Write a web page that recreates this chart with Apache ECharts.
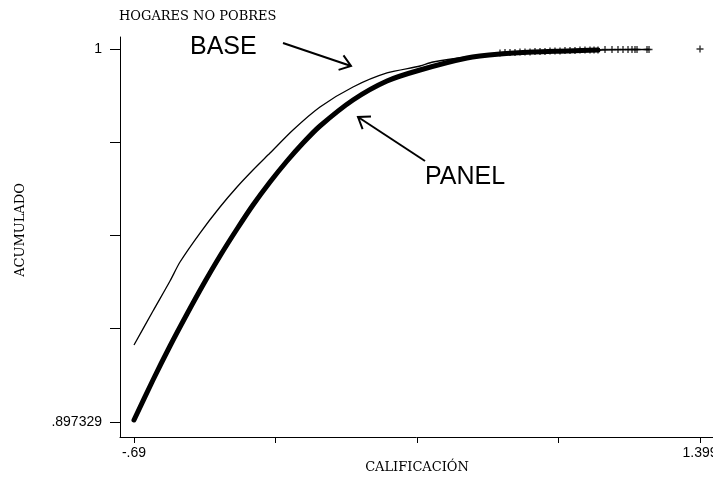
<!DOCTYPE html>
<html>
<head>
<meta charset="utf-8">
<script src="https://cdn.jsdelivr.net/npm/echarts@6/dist/echarts.min.js"></script>
<style>
html,body{margin:0;padding:0;background:#fff;}
#chart{width:713px;height:479px;}
</style>
</head>
<body>
<div id="chart"></div>
<script>
// ---- data ----
const panelX = [-0.69, -0.6199, -0.5571, -0.4944, -0.4353, -0.3726, -0.3098, -0.2508, -0.1880, -0.1253, -0.0662, -0.0035, 0.1183, 0.2438, 0.3656, 0.5390, 0.6608, 0.7826, 0.9081, 1.0225];
const panelY = [0.89788, 0.90889, 0.91825, 0.92706, 0.93504, 0.94302, 0.95045, 0.95706, 0.96339, 0.96917, 0.97413, 0.97881, 0.98596, 0.99119, 0.99422, 0.99752, 0.99863, 0.99918, 0.99945, 0.99973];

const baseX = [-0.69, -0.6199, -0.5571, -0.5202, -0.4464, -0.3726, -0.3098, -0.2508, -0.1880, -0.1032, -0.0035, 0.1183, 0.2438, 0.3656, 0.4136, 0.5390, 0.6608, 0.7826, 0.9081, 1.0299, 1.2108];
const baseY = [0.91852, 0.92788, 0.93614, 0.94137, 0.94935, 0.95651, 0.96202, 0.96670, 0.97137, 0.97771, 0.98404, 0.98954, 0.99340, 0.99532, 0.99642, 0.99780, 0.99863, 0.99918, 0.99945, 0.99973, 0.99986];

const tailX = [0.6608, 0.6793, 0.6977, 0.7162, 0.7346, 0.7531, 0.7716, 0.7900, 0.8085, 0.8269, 0.8454, 0.8638, 0.8823, 0.9007, 0.9192, 0.9376, 0.9561, 0.9745, 0.9930, 1.0078, 1.0225, 1.0484, 1.0742, 1.0963, 1.1148, 1.1333, 1.1480, 1.1591, 1.1665, 1.2034, 1.2108, 1.399];
const tailY = [0.99890, 0.99904, 0.99904, 0.99904, 0.99918, 0.99918, 0.99918, 0.99932, 0.99932, 0.99932, 0.99945, 0.99945, 0.99945, 0.99959, 0.99959, 0.99959, 0.99973, 0.99973, 0.99973, 0.99973, 0.99973, 0.99986, 0.99986, 0.99986, 0.99986, 0.99986, 0.99986, 0.99986, 0.99986, 0.99986, 0.99986, 1.0];

const xTickValues = [-0.69, -0.16775, 0.3545, 0.87675, 1.399];
const xLabelValues = [-0.69, 1.399];
const xLabelTexts = ['-.69', '1.399'];
const yTickValues = [0.897329, 0.922997, 0.948665, 0.974332, 1];
const yLabelValues = [0.897329, 1];
const yLabelTexts = ['.897329', '1'];

const title = 'HOGARES NO POBRES';
const xName = 'CALIFICACIÓN';
const yName = 'ACUMULADO';
const labelBase = 'BASE';
const labelPanel = 'PANEL';

// ---- build ----
const zip = (a, b) => a.map((v, i) => [v, b[i]]);
const pick = (vals, texts) => v => {
  let best = 0;
  vals.forEach((t, i) => { if (Math.abs(t - v) < Math.abs(vals[best] - v)) best = i; });
  return texts[best];
};

function arrow(x1, y1, x2, y2, len, ang) {
  const dx = x1 - x2, dy = y1 - y2;
  const d = Math.hypot(dx, dy);
  const ux = dx / d, uy = dy / d;
  const rot = a => [x2 + len * (ux * Math.cos(a) - uy * Math.sin(a)), y2 + len * (ux * Math.sin(a) + uy * Math.cos(a))];
  const s = { stroke: '#000', lineWidth: 2, fill: null };
  return [
    { type: 'polyline', shape: { points: [[x1, y1], [x2, y2]] }, style: s },
    { type: 'polyline', shape: { points: [rot(ang), [x2, y2], rot(-ang)] }, style: s }
  ];
}

const plus = 'path://M4,0H6V4H10V6H6V10H4V6H0V4H4Z';
const serif = 'DejaVu Serif';
const sans = 'Liberation Sans';

const chart = echarts.init(document.getElementById('chart'), null, { renderer: 'canvas' });
chart.setOption({
  animation: false,
  backgroundColor: '#fff',
  grid: { left: 120, right: 0, top: 37, bottom: 42, containLabel: false, outerBoundsMode: 'none' },
  xAxis: {
    type: 'value',
    min: -0.74167, max: 1.44697,
    splitLine: { show: false },
    axisLine: { show: true, onZero: false, lineStyle: { color: '#000', width: 1 } },
    axisTick: { show: true, length: 6, lineStyle: { color: '#000' }, customValues: xTickValues },
    axisLabel: { show: true, margin: 9, customValues: xLabelValues, formatter: pick(xLabelValues, xLabelTexts), color: '#000', fontFamily: sans, fontSize: 14, hideOverlap: false }
  },
  yAxis: {
    type: 'value',
    min: 0.8932, max: 1.003303,
    splitLine: { show: false },
    axisLine: { show: true, onZero: false, lineStyle: { color: '#000', width: 1 } },
    axisTick: { show: true, length: 10, lineStyle: { color: '#000' }, customValues: yTickValues },
    axisLabel: { show: true, margin: 18, customValues: yLabelValues, formatter: pick(yLabelValues, yLabelTexts), color: '#000', fontFamily: sans, fontSize: 14 }
  },
  series: [
    {
      name: 'PANEL', type: 'line', data: zip(panelX, panelY),
      showSymbol: false, smooth: 0.25,
      lineStyle: { color: '#000', width: 5, cap: 'round', join: 'round' }
    },
    {
      name: 'BASE', type: 'line', data: zip(baseX, baseY),
      showSymbol: false, smooth: 0.25,
      lineStyle: { color: '#000', width: 1.3 }
    },
    {
      name: 'tail', type: 'scatter', data: zip(tailX, tailY),
      symbol: plus, symbolSize: 7,
      itemStyle: { color: '#000' }
    }
  ],
  graphic: [
    { type: 'text', x: 119, y: 17, style: { text: title, fontFamily: serif, fontSize: 13, fill: '#000', textAlign: 'left', textVerticalAlign: 'middle' } },
    { type: 'text', x: 417, y: 468, style: { text: xName, fontFamily: serif, fontSize: 13, fill: '#000', textAlign: 'center', textVerticalAlign: 'middle' } },
    { type: 'text', x: 21, y: 230, rotation: Math.PI / 2, style: { text: yName, fontFamily: serif, fontSize: 13, fill: '#000', textAlign: 'center', textVerticalAlign: 'middle' } },
    { type: 'text', x: 190, y: 47.5, style: { text: labelBase, fontFamily: sans, fontSize: 25, fill: '#000', textAlign: 'left', textVerticalAlign: 'middle' } },
    { type: 'text', x: 425, y: 177, style: { text: labelPanel, fontFamily: sans, fontSize: 25, fill: '#000', textAlign: 'left', textVerticalAlign: 'middle' } },
    ...arrow(283, 43, 351, 66, 13, Math.PI * 0.2),
    ...arrow(425, 161, 358, 117, 13, Math.PI * 0.2)
  ]
});
</script>
</body>
</html>
